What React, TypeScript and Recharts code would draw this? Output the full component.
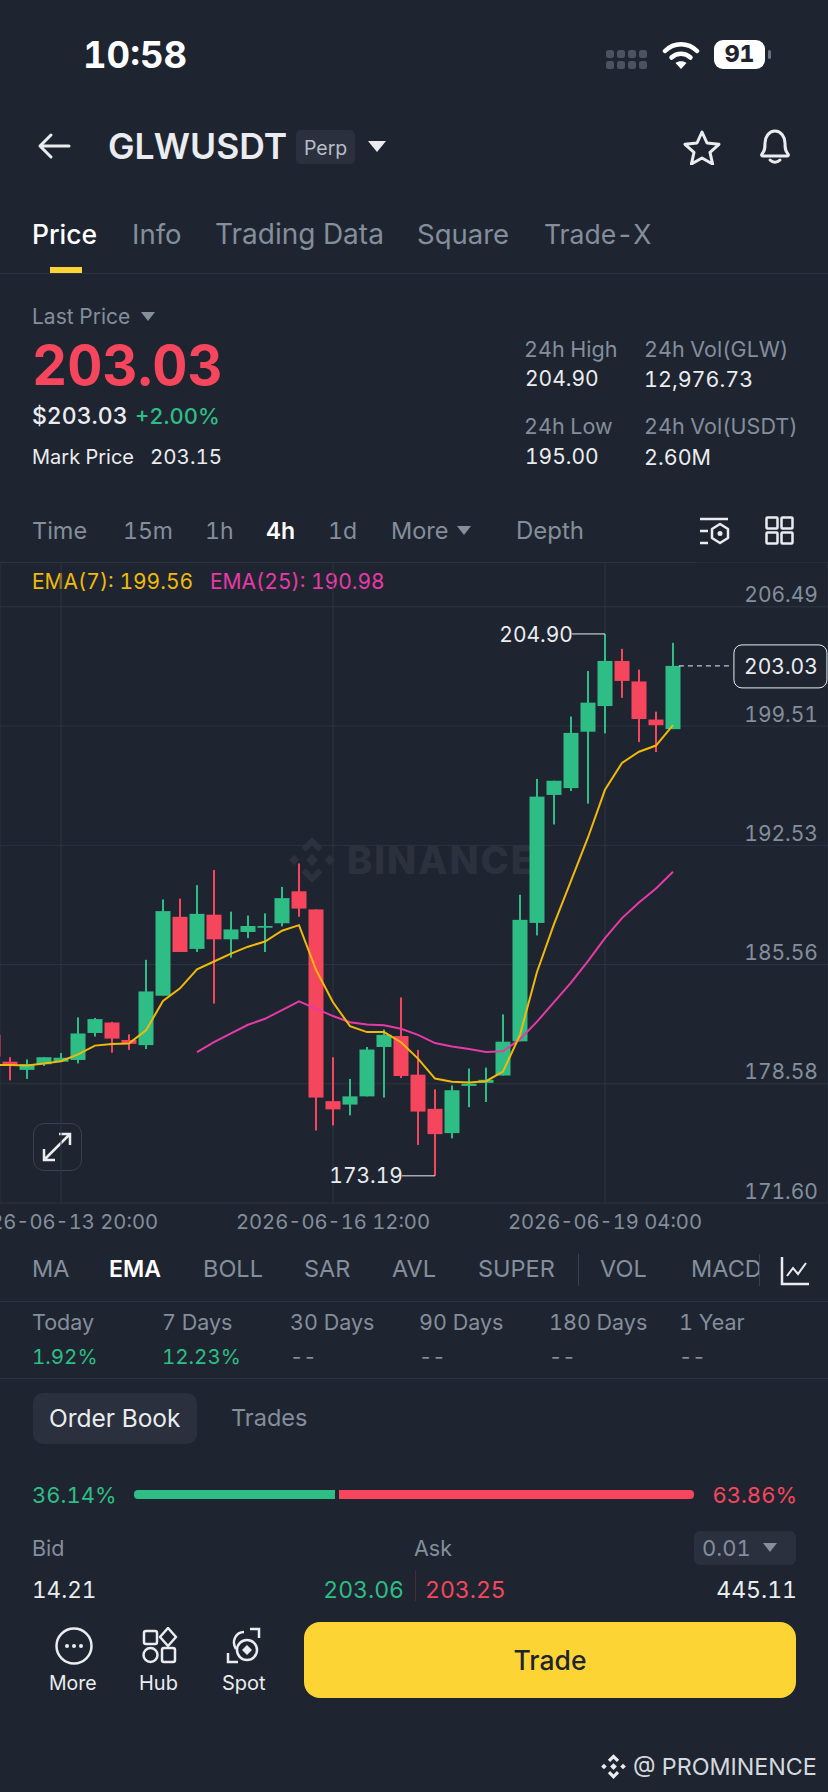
import { ComposedChart, Bar, Line, XAxis, YAxis, CartesianGrid, ReferenceLine, ReferenceDot } from 'recharts';

const opens = [181.44, 179.87, 179.39, 179.72, 179.87, 179.97, 181.55, 182.16, 181.14, 180.84, 183.73, 188.35, 186.47, 188.47, 187.03, 187.46, 187.71, 187.97, 189.84, 188.78, 177.56, 177.36, 177.84, 180.73, 181.37, 179.11, 177.11, 175.69, 178.45, 178.63, 179.06, 181.06, 187.99, 195.48, 195.88, 199.18, 200.68, 203.32, 202.12, 199.89, 199.33];
const highs = [181.6, 180.13, 180.0, 180.13, 180.38, 182.46, 182.43, 182.2, 181.47, 185.83, 189.36, 189.41, 190.2, 191.09, 188.65, 188.42, 188.55, 190.1, 191.47, 188.78, 180.13, 178.86, 180.73, 181.75, 183.63, 180.56, 178.25, 178.48, 179.47, 179.52, 182.64, 189.64, 196.42, 196.31, 200.07, 202.73, 204.9, 204.03, 202.81, 200.35, 204.38];
const lows = [179.9, 178.78, 178.86, 179.62, 179.85, 179.77, 181.34, 180.4, 180.56, 180.61, 183.73, 186.29, 186.29, 183.27, 185.96, 187.1, 186.29, 187.79, 188.35, 175.84, 176.14, 176.73, 177.84, 177.77, 178.91, 175.0, 173.19, 175.38, 177.21, 177.51, 179.06, 181.06, 187.26, 193.75, 195.71, 194.97, 199.08, 201.16, 198.57, 197.99, 199.33];
const closes = [180.18, 179.62, 179.72, 180.13, 180.1, 181.52, 182.36, 181.22, 180.91, 183.98, 188.68, 186.29, 188.52, 187.03, 187.61, 187.81, 187.81, 189.44, 188.83, 177.77, 177.08, 177.84, 180.58, 181.44, 179.03, 176.95, 175.63, 178.2, 178.58, 178.81, 181.04, 188.17, 195.38, 196.31, 199.11, 200.88, 203.32, 202.15, 199.92, 199.56, 203.03];
const ema7 = [179.67, 179.67, 179.64, 179.77, 179.9, 180.3, 180.81, 180.91, 180.94, 181.7, 183.42, 184.16, 185.28, 185.73, 186.19, 186.6, 186.9, 187.53, 187.86, 185.25, 183.35, 181.95, 181.6, 181.6, 181.01, 180.05, 178.88, 178.7, 178.65, 178.73, 179.29, 181.44, 185.12, 187.92, 190.45, 192.99, 195.78, 197.35, 198.01, 198.37, 199.56];
const ema25 = [null, null, null, null, null, null, null, null, null, null, null, null, 180.43, 181.01, 181.52, 182.03, 182.38, 182.89, 183.4, 182.97, 182.54, 182.18, 182.05, 182.0, 181.8, 181.44, 180.96, 180.76, 180.61, 180.43, 180.48, 181.19, 182.21, 183.35, 184.49, 185.76, 187.1, 188.27, 189.18, 190.0, 190.98];

const priceTicks = [171.6, 178.58, 185.56, 192.53, 199.51, 206.49];
const timeTicks = [4, 20, 36];
const timeLabels = ['2026-06-13 20:00', '2026-06-16 12:00', '2026-06-19 04:00'];

const chartData = opens.map((open, i) => ({
  idx: i,
  open,
  close: closes[i],
  high: highs[i],
  low: lows[i],
  range: [lows[i], highs[i]],
  ema7: ema7[i],
  ema25: ema25[i],
}));

const BG = '#1e2530';
const GRID = '#2d3441';
const GREEN = '#2ebd85';
const RED = '#f6465d';
const GREY = '#848e9c';
const WHITE = '#eaecef';
const CHIP = '#2a303d';
const FONT = 'Inter, sans-serif';

const Txt = ({ x, y, size = 21, color = WHITE, weight = 400, right, ls, children }: {
  x: number; y: number; size?: number; color?: string; weight?: number; right?: boolean; ls?: number; children: React.ReactNode;
}) => (
  <div style={{
    position: 'absolute',
    top: y - 20,
    height: 40,
    lineHeight: '40px',
    fontSize: size,
    fontWeight: weight,
    letterSpacing: ls,
    color,
    whiteSpace: 'nowrap',
    ...(right ? { right: 828 - x } : { left: x - 1 }),
  }}>
    {children}
  </div>
);

const Tri = ({ x, y, w, h, color }: { x: number; y: number; w: number; h: number; color: string }) => (
  <div style={{
    position: 'absolute', left: x, top: y, width: 0, height: 0,
    borderLeft: `${w / 2}px solid transparent`,
    borderRight: `${w / 2}px solid transparent`,
    borderTop: `${h}px solid ${color}`,
  }} />
);

const Rule = ({ y, right = 828 }: { y: number; right?: number }) => (
  <div style={{ position: 'absolute', left: 0, top: y, width: right, height: 1, background: GRID }} />
);

const Icon = ({ x, y, w, h, children }: { x: number; y: number; w: number; h: number; children: React.ReactNode }) => (
  <svg style={{ position: 'absolute', left: x, top: y }} width={w} height={h} viewBox={`0 0 ${w} ${h}`} fill="none">
    {children}
  </svg>
);

const BinanceMark = ({ x, y, s, color }: { x: number; y: number; s: number; color: string }) => (
  <Icon x={x} y={y} w={s} h={s}>
    <g fill={color} transform={`scale(${s / 24})`}>
      <path d="M12 1l5 5-2 2-3-3-3 3-2-2z" />
      <path d="M12 23l-5-5 2-2 3 3 3-3 2 2z" />
      <path d="M1 12l2.5-2.5L6 12l-2.5 2.5z" />
      <path d="M18 12l2.5-2.5L23 12l-2.5 2.5z" />
      <path d="M12 9l3 3-3 3-3-3z" />
    </g>
  </Icon>
);

// body and wick are both worked out from the range the bar was given
const Candle = (props: any) => {
  const { x, y, width, height, payload } = props;
  const { open, close, high, low } = payload;
  const perUnit = height / (high - low);
  const top = y + (high - Math.max(open, close)) * perUnit;
  const bodyH = Math.max(Math.abs(open - close) * perUnit, 1.5);
  const color = close >= open ? GREEN : RED;
  return (
    <g>
      <rect x={x + width / 2 - 1} y={y} width={2} height={height} fill={color} />
      <rect x={x} y={top} width={width} height={bodyH} fill={color} />
    </g>
  );
};

const PriceTick = ({ y, payload }: any) => (
  <text x={818} y={y - 12} dy="0.36em" textAnchor="end" fill={GREY} fontSize={21} fontFamily={FONT}>
    {payload.value.toFixed(2)}
  </text>
);

const TimeTick = ({ x, y, payload }: any) => (
  <text x={x} y={y + 11} dy="0.36em" textAnchor="middle" fill={GREY} fontSize={20.2} fontFamily={FONT}>
    {timeLabels[timeTicks.indexOf(payload.value)]}
  </text>
);

const ExtremeLabel = (text: string) => (p: any) => (
  <text x={p.cx + 1} y={p.cy} dy="0.36em" textAnchor="end" fill={WHITE} fontSize={21} fontFamily={FONT}>
    {text}
  </text>
);

const LastPriceBox = (p: any) => (
  <g>
    <rect x={p.cx - 46} y={p.cy - 21} width={93} height={43} rx={8} fill={BG} stroke={WHITE} strokeWidth={1} />
    <text x={p.cx + 1} y={p.cy + 1} dy="0.36em" textAnchor="middle" fill={WHITE} fontSize={21} fontFamily={FONT}>203.03</text>
  </g>
);

const CandleChart = () => (
  <div style={{ position: 'absolute', left: 0, top: 562 }}>
    <ComposedChart width={828} height={681} data={chartData} margin={{ top: 0, right: 0, bottom: 0, left: 0 }}>
      <CartesianGrid stroke={GRID} strokeWidth={1} />
      <XAxis
        dataKey="idx"
        type="number"
        domain={[0.412, 49.118]}
        allowDataOverflow
        ticks={timeTicks}
        interval={0}
        height={40}
        axisLine={false}
        tickLine={false}
        tick={<TimeTick />}
      />
      <YAxis
        orientation="right"
        mirror
        type="number"
        domain={[171.6, 209.11]}
        allowDataOverflow
        ticks={priceTicks}
        interval={0}
        axisLine={false}
        tickLine={false}
        tick={<PriceTick />}
      />
      <Bar dataKey="range" barSize={15} shape={<Candle />} isAnimationActive={false} />
      <Line dataKey="ema25" stroke="#e839a8" strokeWidth={2} dot={false} isAnimationActive={false} />
      <Line dataKey="ema7" stroke="#f0b90b" strokeWidth={2} dot={false} isAnimationActive={false} />
      <ReferenceLine segment={[{ x: 34.06, y: 204.9 }, { x: 36, y: 204.9 }]} stroke={WHITE} strokeWidth={1} />
      <ReferenceLine segment={[{ x: 24.06, y: 173.19 }, { x: 26, y: 173.19 }]} stroke={WHITE} strokeWidth={1} />
      <ReferenceLine segment={[{ x: 40.35, y: 203.03 }, { x: 43.53, y: 203.03 }]} stroke={WHITE} strokeWidth={1} strokeDasharray="5 4" />
      <ReferenceDot x={34.06} y={204.9} r={0} shape={ExtremeLabel('204.90')} />
      <ReferenceDot x={24.06} y={173.19} r={0} shape={ExtremeLabel('173.19')} />
      <ReferenceDot x={46.29} y={203.03} r={0} shape={LastPriceBox} />
    </ComposedChart>
  </div>
);

const StatusBar = () => (
  <>
    <Txt x={84} y={55} size={36.5} weight={700} color="#ffffff">10:58</Txt>
    <Icon x={606} y={50} w={42} h={20}>
      {[0, 11, 22, 33].map((dx) => [0, 11].map((dy) => (
        <rect key={`${dx}-${dy}`} x={dx} y={dy} width={8} height={8} rx={2.5} fill="#4b5361" />
      )))}
    </Icon>
    <Icon x={662} y={40} w={38} h={30}>
      <path d="M3 11c9-9 23-9 32 0" stroke="#fff" strokeWidth={4.5} strokeLinecap="round" />
      <path d="M9.5 17.5c5.5-5 13.5-5 19 0" stroke="#fff" strokeWidth={4.5} strokeLinecap="round" />
      <path d="M19 29l-5.5-6c3-2.5 8-2.5 11 0z" fill="#fff" />
    </Icon>
    <div style={{
      position: 'absolute', left: 714, top: 40, width: 51, height: 29, borderRadius: 9, background: '#fff',
      color: BG, fontSize: 23, fontWeight: 800, lineHeight: '29px', textAlign: 'center',
    }}>91</div>
    <div style={{ position: 'absolute', left: 768, top: 50, width: 3, height: 9, borderRadius: 2, background: '#6c7380' }} />
  </>
);

const Header = () => (
  <>
    <Icon x={36} y={132} w={36} h={28}>
      <path d="M33 14H4M15 3L4 14l11 11" stroke={WHITE} strokeWidth={3} strokeLinecap="round" strokeLinejoin="round" />
    </Icon>
    <Txt x={109} y={147} size={35.5} weight={600}>GLWUSDT</Txt>
    <div style={{ position: 'absolute', left: 296, top: 130, width: 59, height: 34, borderRadius: 5, background: CHIP }} />
    <Txt x={305} y={148} size={19.5} color="#b7bdc6">Perp</Txt>
    <Tri x={368} y={141} w={18} h={11} color={WHITE} />
    <Icon x={683} y={129} w={38} h={36}>
      <path d="M19 3l5 11 12 1.300-9 8 2.600 11.700L19 29l-10.600 6 2.600-11.700-9-8L14 14z" stroke={WHITE} strokeWidth={3} strokeLinejoin="round" />
    </Icon>
    <Icon x={756} y={127} w={38} h={38}>
      <path d="M6 27c3-3 3-6 3-11 0-6 4-12 10-12s10 6 10 12c0 5 0 8 3 11 1 1 0 2-1 2H7c-1 0-2-1-1-2z" stroke={WHITE} strokeWidth={3} strokeLinejoin="round" />
      <path d="M14 33c3 3 7 3 10 0" stroke={WHITE} strokeWidth={3} strokeLinecap="round" />
    </Icon>
    <Txt x={33} y={234} size={26.5} weight={500} color="#ffffff">Price</Txt>
    <Txt x={133} y={234} size={27.5} color={GREY}>Info</Txt>
    <Txt x={216} y={234} size={28} color={GREY}>Trading Data</Txt>
    <Txt x={418} y={234} size={27.5} color={GREY}>Square</Txt>
    <Txt x={545} y={234} size={26.5} color={GREY}>Trade-X</Txt>
    <div style={{ position: 'absolute', left: 50, top: 267, width: 32, height: 6, background: '#fcd535' }} />
    <Rule y={273} />
  </>
);

const Stats = () => (
  <>
    <Txt x={33} y={317} size={21} color={GREY}>Last Price</Txt>
    <Tri x={141} y={312} w={15} h={9} color={GREY} />
    <Txt x={33} y={365} size={54.5} weight={700} color={RED}>203.03</Txt>
    <Txt x={33} y={416} size={23} weight={500}>$203.03</Txt>
    <Txt x={136} y={416} size={22} weight={500} color={GREEN}>+2.00%</Txt>
    <Txt x={33} y={457} size={20}>Mark Price</Txt>
    <Txt x={151} y={457} size={20.5}>203.15</Txt>
    <Txt x={525} y={349} size={21.5} color={GREY}>24h High</Txt>
    <Txt x={645} y={349} size={21.5} color={GREY}>24h Vol(GLW)</Txt>
    <Txt x={526} y={379} size={21}>204.90</Txt>
    <Txt x={645} y={379} size={21.5}>12,976.73</Txt>
    <Txt x={525} y={426} size={21.5} color={GREY}>24h Low</Txt>
    <Txt x={645} y={426} size={21.5} color={GREY}>24h Vol(USDT)</Txt>
    <Txt x={526} y={457} size={21}>195.00</Txt>
    <Txt x={645} y={457} size={21.5}>2.60M</Txt>
  </>
);

const TimeRow = () => (
  <>
    <Txt x={33} y={531} size={23.5} color={GREY}>Time</Txt>
    <Txt x={124} y={531} size={23} color={GREY}>15m</Txt>
    <Txt x={206} y={531} size={23} color={GREY}>1h</Txt>
    <Txt x={267} y={531} size={23} weight={600} color="#ffffff">4h</Txt>
    <Txt x={329} y={531} size={23} color={GREY}>1d</Txt>
    <Txt x={392} y={531} size={23.5} color={GREY}>More</Txt>
    <Tri x={457} y={526} w={15} h={9} color={GREY} />
    <Txt x={517} y={531} size={24} color={GREY}>Depth</Txt>
    <Icon x={699} y={517} w={32} h={28}>
      <path d="M1 2h28M1 14h8M1 26h8" stroke={WHITE} strokeWidth={2.500} />
      <path d="M21 7l8 5v9l-8 5-8-5v-9z" stroke={WHITE} strokeWidth={2.500} strokeLinejoin="round" />
      <circle cx={21} cy={16.500} r={2.500} fill={WHITE} />
    </Icon>
    <Icon x={765} y={516} w={29} h={29}>
      {[1.500, 16.500].map((gx) => [1.500, 16.500].map((gy) => (
        <rect key={`${gx}-${gy}`} x={gx} y={gy} width={11} height={11} rx={1} stroke={WHITE} strokeWidth={2.500} />
      )))}
    </Icon>
    <Rule y={562} right={696} />
  </>
);

const Overlay = () => (
  <>
    <Txt x={33} y={582} size={21} color="#f0b90b">EMA(7): 199.56</Txt>
    <Txt x={211} y={582} size={21} color="#e839a8">EMA(25): 190.98</Txt>
    <BinanceMark x={287} y={835} s={50} color="#2b323e" />
    <Txt x={348} y={860} size={38} weight={800} ls={2} color="#2b323e">BINANCE</Txt>
    <div style={{ position: 'absolute', left: 33, top: 1123, width: 47, height: 46, borderRadius: 11, border: `1.5px solid #3a414e` }} />
    <Icon x={41} y={1131} w={32} h={32}>
      <path d="M3 29L29 3M18 3h11v11M3 18v11h11" stroke={WHITE} strokeWidth={2.500} />
    </Icon>
  </>
);

const IndicatorRow = () => (
  <>
    <Txt x={33} y={1269} size={23.5} color={GREY}>MA</Txt>
    <Txt x={110} y={1269} size={23} weight={600} color="#ffffff">EMA</Txt>
    <Txt x={204} y={1269} size={23.5} color={GREY}>BOLL</Txt>
    <Txt x={305} y={1269} size={23.5} color={GREY}>SAR</Txt>
    <Txt x={393} y={1269} size={23.5} color={GREY}>AVL</Txt>
    <Txt x={479} y={1269} size={23.5} color={GREY}>SUPER</Txt>
    <div style={{ position: 'absolute', left: 578, top: 1254, width: 1, height: 32, background: '#3a414e' }} />
    <Txt x={601} y={1269} size={23.5} color={GREY}>VOL</Txt>
    <div style={{ position: 'absolute', left: 691, top: 1249, width: 68, height: 40, overflow: 'hidden' }}>
      <Txt x={1} y={20} size={23.5} color={GREY}>MACD</Txt>
    </div>
    <div style={{ position: 'absolute', left: 759, top: 1254, width: 1, height: 32, background: '#3a414e' }} />
    <Icon x={780} y={1256} w={30} h={30}>
      <path d="M2 1v27h27" stroke={WHITE} strokeWidth={2.500} />
      <path d="M7 20l6-8 5 6 8-11" stroke={WHITE} strokeWidth={2} />
    </Icon>
    <Rule y={1301} />
  </>
);

const periodNames = ['Today', '7 Days', '30 Days', '90 Days', '180 Days', '1 Year'];
const periodValues = ['1.92%', '12.23%', '--', '--', '--', '--'];
const periodX = [33, 163, 291, 420, 550, 680];

const Periods = () => (
  <>
    {periodNames.map((name, i) => (
      <div key={name}>
        <Txt x={periodX[i]} y={1322} size={21.5} color={GREY}>{name}</Txt>
        <Txt x={periodX[i]} y={1357} size={20.5} color={periodValues[i] === '--' ? GREY : GREEN}>{periodValues[i]}</Txt>
      </div>
    ))}
    <Rule y={1378} />
  </>
);

const OrderBook = () => (
  <>
    <div style={{ position: 'absolute', left: 33, top: 1393, width: 164, height: 51, borderRadius: 10, background: CHIP }} />
    <Txt x={50} y={1418} size={24.5}>Order Book</Txt>
    <Txt x={232} y={1418} size={23.5} color={GREY}>Trades</Txt>
    <Txt x={33} y={1495} size={22} color={GREEN}>36.14%</Txt>
    <div style={{ position: 'absolute', left: 134, top: 1490, width: 201, height: 9, background: GREEN, borderRadius: '4px 0 0 4px' }} />
    <div style={{ position: 'absolute', left: 339, top: 1490, width: 355, height: 9, background: RED, borderRadius: '0 4px 4px 0' }} />
    <Txt x={797} y={1495} size={22} color={RED} right>63.86%</Txt>
    <Txt x={33} y={1548} size={21.5} color={GREY}>Bid</Txt>
    <Txt x={415} y={1548} size={21.5} color={GREY}>Ask</Txt>
    <div style={{ position: 'absolute', left: 694, top: 1531, width: 102, height: 34, borderRadius: 6, background: CHIP }} />
    <Txt x={703} y={1548} size={22} color={GREY}>0.01</Txt>
    <Tri x={763} y={1543} w={15} h={9} color={GREY} />
    <Txt x={33} y={1590} size={22.5}>14.21</Txt>
    <Txt x={404} y={1590} size={23} color={GREEN} right>203.06</Txt>
    <div style={{ position: 'absolute', left: 415, top: 1570, width: 1, height: 31, background: '#4a2a38' }} />
    <Txt x={426} y={1590} size={23} color={RED}>203.25</Txt>
    <Txt x={797} y={1590} size={23} right>445.11</Txt>
  </>
);

const BottomBar = () => (
  <>
    <Icon x={54} y={1626} w={40} h={40}>
      <circle cx={20} cy={20} r={17.500} stroke={WHITE} strokeWidth={2.500} />
      <circle cx={13} cy={20} r={2} fill={WHITE} />
      <circle cx={20} cy={20} r={2} fill={WHITE} />
      <circle cx={27} cy={20} r={2} fill={WHITE} />
    </Icon>
    <Txt x={50} y={1683} size={19.5}>More</Txt>
    <Icon x={142} y={1627} w={36} h={38}>
      <rect x={2} y={4} width={13} height={13} rx={2} stroke={WHITE} strokeWidth={2.500} />
      <path d="M26 1l8 9-8 9-8-9z" stroke={WHITE} strokeWidth={2.500} strokeLinejoin="round" />
      <circle cx={8.500} cy={28} r={7} stroke={WHITE} strokeWidth={2.500} />
      <rect x={20} y={21} width={13} height={14} rx={2} stroke={WHITE} strokeWidth={2.500} />
    </Icon>
    <Txt x={140} y={1683} size={20}>Hub</Txt>
    <Icon x={226} y={1627} w={36} h={38}>
      <path d="M24 2h9v9M2 26v9h10" stroke={WHITE} strokeWidth={2.500} />
      <path d="M10 22C5 14 10 5 18 5" stroke={WHITE} strokeWidth={2.500} />
      <circle cx={21} cy={23} r={10} stroke={WHITE} strokeWidth={2.500} />
      <path d="M21 18l5 5-5 5-5-5z" fill={WHITE} />
    </Icon>
    <Txt x={223} y={1683} size={20}>Spot</Txt>
    <div style={{
      position: 'absolute', left: 304, top: 1622, width: 492, height: 76, borderRadius: 16, background: '#fcd535',
      color: BG, fontSize: 26.5, fontWeight: 500, lineHeight: '76px', textAlign: 'center',
    }}>Trade</div>
    <BinanceMark x={600} y={1753} s={27} color={WHITE} />
    <Txt x={634} y={1767} size={23.3} color="#d5d9df">@ PROMINENCE</Txt>
  </>
);

export default function App() {
  return (
    <div style={{
      position: 'absolute', left: 0, top: 0, width: 828, height: 1792, overflow: 'hidden',
      background: BG, fontFamily: FONT, fontVariantNumeric: 'tabular-nums',
    }}>
      <StatusBar />
      <Header />
      <Stats />
      <TimeRow />
      <Overlay />
      <CandleChart />
      <IndicatorRow />
      <Periods />
      <OrderBook />
      <BottomBar />
    </div>
  );
}
